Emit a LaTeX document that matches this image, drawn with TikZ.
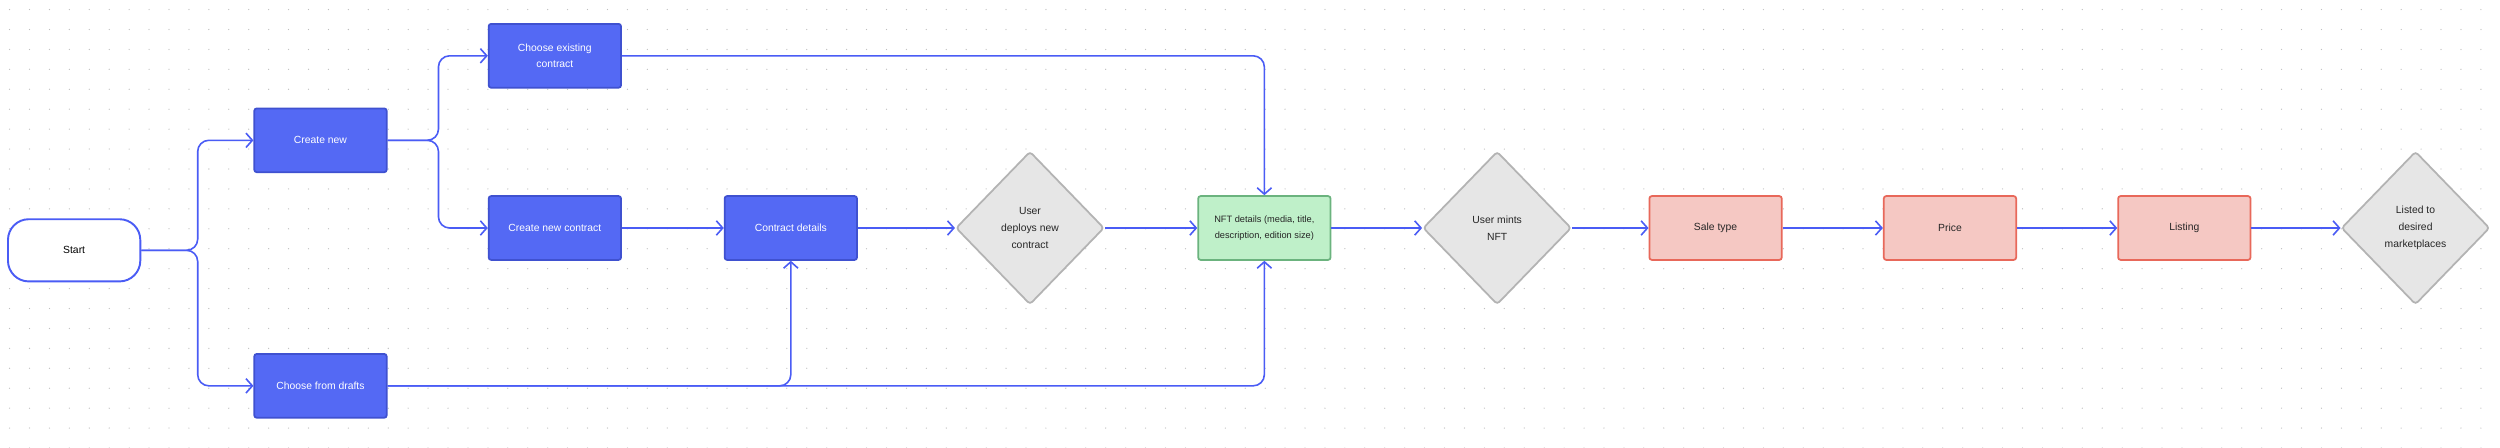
\documentclass[tikz,border=0pt]{standalone}
\usepackage{fontspec}
\setmainfont{Liberation Sans}
\usetikzlibrary{shapes.geometric,arrows.meta}
\definecolor{bfill}{HTML}{5469F4}
\definecolor{bdraw}{HTML}{3F51D0}
\definecolor{line}{HTML}{4A5CF5}
\definecolor{rfill}{HTML}{F5C8C3}
\definecolor{rdraw}{HTML}{E8685A}
\definecolor{gfill}{HTML}{BFF0C9}
\definecolor{gdraw}{HTML}{6BB37E}
\definecolor{dfill}{HTML}{E6E6E6}
\definecolor{ddraw}{HTML}{B3B3B3}
\begin{document}
\begin{tikzpicture}[x=1pt,y=-1pt,
  box/.style={rectangle,rounded corners=1.5pt,minimum width=83pt,minimum height=40pt,line width=1.1pt,align=center,font=\fontsize{6.5}{10.5}\selectfont,inner sep=1pt},
  blue/.style={box,fill=bfill,draw=bdraw,text=white},
  red/.style={box,fill=rfill,draw=rdraw,text=black!85},
  green/.style={box,fill=gfill,draw=gdraw,text=black!85,font=\fontsize{5.8}{10}\selectfont},
  dia/.style={diamond,aspect=0.97,minimum width=93pt,minimum height=96pt,inner sep=0pt,fill=dfill,draw=ddraw,line width=1.1pt,rounded corners=2pt,align=center,font=\fontsize{6.5}{10.5}\selectfont,text=black!85},
  conn/.style={draw=line,line width=1pt,rounded corners=7pt,-{Straight Barb[length=4pt,width=9pt]}}]
\useasboundingbox (0,0) rectangle (1568,280.4);
\fill[white] (0,0) rectangle (1568,280.4);
\foreach \i in {0,...,125} \foreach \j in {0,...,22}
  \fill[black!25] (6+12.5*\i,6+12.5*\j) circle (0.4pt);
\node[rectangle,rounded corners=13pt,minimum width=83pt,minimum height=39pt,draw=line,line width=1.2pt,fill=white,font=\fontsize{6.5}{10}\selectfont] (start) at (46.5,157) {Start};
\node[blue] (cn) at (201,88) {Create new};
\node[blue] (ce) at (348,35) {Choose existing\\contract};
\node[blue] (cnc) at (348,143) {Create new contract};
\node[blue] (cd) at (496,143) {Contract details};
\node[blue] (dr) at (201,242) {Choose from drafts};
\node[dia] (d1) at (646,143) {User\\deploys new\\contract};
\node[green] (nft) at (793,143) {NFT details (media, title,\\description, edition size)};
\node[dia] (d2) at (939,143) {User mints\\NFT};
\node[red] (st) at (1076,143) {Sale type};
\node[red] (pr) at (1223,143) {Price};
\node[red] (li) at (1370,143) {Listing};
\node[dia] (d3) at (1515,143) {Listed to\\desired\\marketplaces};
\coordinate (s1) at (124,157);
\coordinate (s2) at (275,88);
\draw[conn] (start.east) -- (s1) |- (cn.west);
\draw[conn] (start.east) -- (s1) |- (dr.west);
\draw[conn] (cn.east) -- (s2) |- (ce.west);
\draw[conn] (cn.east) -- (s2) |- (cnc.west);
\draw[conn] (cnc) -- (cd);
\draw[conn] (cd) -- (d1);
\draw[conn] (d1) -- (nft);
\draw[conn] (ce.east) -| (nft.north);
\draw[conn] (dr.east) -| (cd.south);
\draw[conn] (dr.east) -| (nft.south);
\draw[conn] (nft) -- (d2);
\draw[conn] (d2) -- (st);
\draw[conn] (st) -- (pr);
\draw[conn] (pr) -- (li);
\draw[conn] (li) -- (d3);
\end{tikzpicture}
\end{document}
